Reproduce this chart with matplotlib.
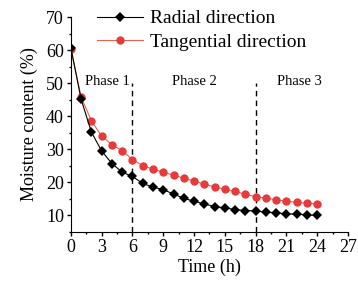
import matplotlib
matplotlib.use("Agg")
import matplotlib.pyplot as plt
from matplotlib.ticker import MultipleLocator

# Drying time (h) and moisture content (%)
time_h = list(range(0, 25))
radial = [60.7, 45.1, 35.2, 29.5, 25.7, 23.1, 21.8, 19.7, 18.6, 17.8, 16.5, 15.2, 14.3,
          13.5, 12.7, 12.3, 11.8, 11.5, 11.4, 11.0, 10.8, 10.5, 10.4, 10.2, 10.0]
tangential = [60.3, 45.8, 38.6, 34.0, 31.4, 29.6, 26.9, 25.1, 24.0, 23.1, 22.2, 21.3, 20.4,
              19.5, 18.6, 18.0, 17.3, 16.4, 15.7, 15.2, 14.8, 14.3, 14.0, 13.7, 13.5]
phase_bounds = [6, 18]
phase_labels = ["Phase 1", "Phase 2", "Phase 3"]
phase_label_x = [3.6, 12.0, 22.3]

plt.rcParams['font.family'] = ['Liberation Serif', 'DejaVu Serif']

fig = plt.figure(figsize=(3.58, 2.84), dpi=100)
ax = fig.add_axes([0.198, 0.183, 0.774, 0.757])

ax.plot(time_h, radial, color='black', lw=0.8, marker='D', ms=5.5,
        markeredgewidth=0, label="Radial direction", zorder=3)
ax.plot(time_h, tangential, color='#f06050', lw=0.8, marker='o', ms=6,
        markerfacecolor='#e83a3a', markeredgewidth=0, label="Tangential direction", zorder=2)

for xb in phase_bounds:
    ax.plot([xb, xb], [5, 50], color='black', lw=1, ls=(0, (4, 3)), zorder=1)
for xl, lab in zip(phase_label_x, phase_labels):
    ax.text(xl, 50.5, lab, ha='center', va='center', fontsize=10.5)

ax.set_xlim(0, 27)
ax.set_ylim(5, 70)
ax.xaxis.set_major_locator(MultipleLocator(3))
ax.xaxis.set_minor_locator(MultipleLocator(1.5))
ax.yaxis.set_major_locator(MultipleLocator(10))
ax.yaxis.set_minor_locator(MultipleLocator(5))
ax.set_yticks([10, 20, 30, 40, 50, 60, 70])
ax.tick_params(which='major', direction='out', length=3, width=1, labelsize=13, pad=2)
ax.tick_params(which='minor', direction='out', length=1.5, width=1)
ax.spines['top'].set_visible(False)
ax.spines['right'].set_visible(False)

ax.set_xlabel("Time (h)", fontsize=13, labelpad=2)
ax.set_ylabel("Moisture content (%)", fontsize=13, labelpad=6)

ax.legend(loc='upper left', bbox_to_anchor=(0.065, 1.07), frameon=False,
          fontsize=14, handlelength=2.4, handletextpad=0.35, labelspacing=0.3,
          borderaxespad=0)

fig.savefig("out.png", dpi=100)
